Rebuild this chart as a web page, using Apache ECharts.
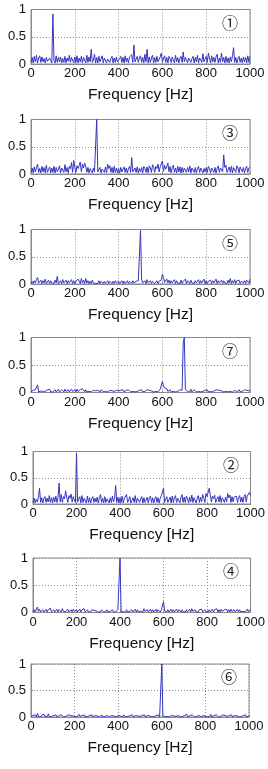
<!DOCTYPE html>
<html><head><meta charset="utf-8">
<script src="https://cdn.jsdelivr.net/npm/echarts@6/dist/echarts.min.js"></script>
<style>html,body{margin:0;padding:0;background:#fff}#c{width:268px;height:769px}</style>
</head><body><div id="c"></div>
<script>
// frequency resolution of the spectra (Hz between samples), 0..1000 Hz
const freqStep = 5;
const xTicks = [0, 200, 400, 600, 800, 1000];
const yTicks = [0, 0.5, 1];
const panelLabels = ['①', '③', '⑤', '⑦', '②', '④', '⑥'];

const spec1 = [
0.03,0.12,0.02,0.14,0.04,0.16,0.02,0.11,0.15,0.03,0.13,0.04,0.10,0.02,0.12,0.05,0.03,0.11,0.14,0.02,
0.92,0.06,0.02,0.15,0.03,0.12,0.04,0.13,0.02,0.10,0.03,0.14,0.02,0.11,0.05,0.16,0.03,0.12,0.10,0.02,
0.13,0.03,0.15,0.02,0.11,0.04,0.14,0.02,0.12,0.10,0.02,0.16,0.03,0.13,0.04,0.27,0.03,0.07,0.18,0.02,
0.12,0.02,0.14,0.04,0.03,0.15,0.02,0.11,0.13,0.02,0.09,0.12,0.03,0.10,0.14,0.02,0.11,0.03,0.13,0.04,
0.02,0.10,0.14,0.03,0.12,0.02,0.15,0.04,0.11,0.02,0.13,0.10,0.17,0.03,0.35,0.04,0.02,0.14,0.03,0.11,
0.15,0.03,0.12,0.02,0.18,0.04,0.27,0.02,0.13,0.03,0.11,0.16,0.02,0.12,0.03,0.14,0.04,0.02,0.13,0.20,
0.04,0.02,0.15,0.03,0.12,0.02,0.14,0.10,0.03,0.13,0.11,0.02,0.16,0.04,0.12,0.02,0.10,0.14,0.03,0.22,
0.04,0.12,0.15,0.02,0.11,0.13,0.03,0.10,0.14,0.02,0.12,0.04,0.16,0.02,0.11,0.13,0.03,0.19,0.04,0.02,
0.14,0.03,0.20,0.11,0.02,0.15,0.04,0.12,0.03,0.13,0.18,0.02,0.11,0.03,0.20,0.04,0.12,0.02,0.14,0.03,
0.11,0.02,0.13,0.04,0.15,0.30,0.03,0.12,0.02,0.10,0.14,0.03,0.11,0.02,0.13,0.04,0.12,0.02,0.15,0.03,
0.14];
const spec3 = [
0.03,0.11,0.02,0.13,0.04,0.12,0.18,0.03,0.10,0.02,0.14,0.04,0.12,0.02,0.16,0.03,0.08,0.13,0.02,0.11,
0.03,0.14,0.02,0.12,0.04,0.08,0.15,0.02,0.11,0.13,0.03,0.17,0.04,0.12,0.02,0.14,0.10,0.21,0.03,0.25,
0.12,0.03,0.15,0.10,0.13,0.22,0.04,0.18,0.11,0.20,0.14,0.03,0.12,0.02,0.10,0.13,0.02,0.11,0.04,0.03,
1.00,0.04,0.02,0.12,0.02,0.09,0.11,0.03,0.13,0.02,0.18,0.10,0.15,0.03,0.12,0.02,0.14,0.03,0.11,0.02,
0.10,0.02,0.12,0.04,0.02,0.13,0.03,0.11,0.02,0.10,0.14,0.03,0.30,0.04,0.02,0.11,0.03,0.13,0.02,0.10,
0.04,0.12,0.02,0.14,0.10,0.03,0.13,0.02,0.15,0.11,0.03,0.17,0.12,0.03,0.14,0.10,0.18,0.04,0.13,0.15,
0.24,0.05,0.16,0.09,0.13,0.20,0.04,0.14,0.02,0.12,0.16,0.03,0.11,0.02,0.14,0.04,0.13,0.02,0.12,0.03,
0.11,0.14,0.03,0.12,0.04,0.15,0.02,0.11,0.13,0.03,0.12,0.02,0.10,0.14,0.03,0.11,0.13,0.02,0.10,0.04,
0.12,0.03,0.14,0.10,0.02,0.11,0.13,0.03,0.12,0.02,0.10,0.15,0.03,0.11,0.13,0.04,0.35,0.12,0.16,0.03,
0.08,0.13,0.03,0.14,0.02,0.12,0.10,0.03,0.15,0.11,0.02,0.13,0.16,0.04,0.12,0.02,0.10,0.14,0.03,0.11,
0.13];
const spec5 = [
0.01,0.05,0.01,0.06,0.02,0.08,0.12,0.02,0.01,0.07,0.01,0.06,0.02,0.09,0.01,0.04,0.07,0.01,0.06,0.02,
0.05,0.01,0.07,0.02,0.14,0.01,0.03,0.06,0.01,0.08,0.02,0.05,0.07,0.01,0.06,0.02,0.05,0.08,0.01,0.06,
0.01,0.05,0.02,0.09,0.06,0.01,0.10,0.02,0.07,0.01,0.10,0.02,0.06,0.01,0.05,0.01,0.07,0.02,0.05,0.01,
0.04,0.01,0.06,0.01,0.05,0.02,0.01,0.05,0.01,0.04,0.06,0.01,0.05,0.02,0.01,0.05,0.01,0.06,0.02,0.01,
0.05,0.01,0.04,0.06,0.01,0.05,0.01,0.04,0.06,0.01,0.05,0.02,0.01,0.06,0.02,0.01,0.05,0.02,0.06,0.07,
0.98,0.09,0.02,0.04,0.06,0.01,0.08,0.02,0.04,0.06,0.01,0.05,0.07,0.01,0.03,0.06,0.01,0.05,0.02,0.07,
0.18,0.12,0.03,0.06,0.09,0.02,0.07,0.01,0.06,0.02,0.05,0.08,0.01,0.06,0.02,0.05,0.01,0.07,0.01,0.05,
0.02,0.09,0.01,0.06,0.05,0.01,0.07,0.02,0.05,0.01,0.06,0.02,0.05,0.08,0.01,0.06,0.02,0.05,0.09,0.01,
0.06,0.01,0.05,0.02,0.07,0.01,0.06,0.02,0.05,0.09,0.01,0.06,0.02,0.05,0.07,0.01,0.06,0.02,0.05,0.01,
0.07,0.02,0.10,0.01,0.06,0.02,0.08,0.01,0.06,0.05,0.07,0.01,0.05,0.08,0.02,0.06,0.01,0.07,0.05,0.02,
0.09];
const spec7 = [
0.01,0.03,0.04,0.01,0.05,0.02,0.14,0.01,0.02,0.03,0.05,0.01,0.04,0.02,0.01,0.05,0.02,0.06,0.01,0.04,
0.01,0.02,0.05,0.01,0.04,0.06,0.01,0.03,0.05,0.02,0.01,0.06,0.02,0.04,0.05,0.01,0.03,0.06,0.02,0.03,
0.05,0.01,0.06,0.02,0.01,0.05,0.02,0.07,0.04,0.01,0.05,0.01,0.04,0.02,0.05,0.01,0.03,0.04,0.01,0.03,
0.01,0.04,0.02,0.01,0.05,0.02,0.01,0.04,0.02,0.05,0.01,0.03,0.04,0.01,0.03,0.05,0.02,0.01,0.04,0.02,
0.03,0.01,0.04,0.02,0.05,0.01,0.03,0.04,0.01,0.05,0.02,0.01,0.04,0.02,0.05,0.01,0.04,0.02,0.01,0.04,
0.02,0.05,0.01,0.04,0.02,0.01,0.05,0.02,0.04,0.01,0.03,0.05,0.01,0.04,0.02,0.05,0.01,0.04,0.06,0.05,
0.20,0.12,0.08,0.05,0.07,0.02,0.03,0.05,0.01,0.04,0.02,0.05,0.01,0.04,0.02,0.01,0.05,0.02,0.04,0.90,
1.00,0.06,0.06,0.02,0.05,0.01,0.06,0.01,0.04,0.05,0.02,0.01,0.04,0.02,0.05,0.01,0.04,0.02,0.01,0.04,
0.02,0.05,0.01,0.04,0.02,0.05,0.01,0.03,0.04,0.01,0.05,0.02,0.04,0.01,0.03,0.05,0.01,0.04,0.02,0.05,
0.01,0.04,0.02,0.05,0.01,0.03,0.04,0.06,0.01,0.03,0.05,0.01,0.04,0.02,0.01,0.05,0.02,0.04,0.01,0.03,
0.05];
const spec2 = [
0.03,0.11,0.02,0.09,0.04,0.13,0.30,0.03,0.12,0.02,0.10,0.14,0.03,0.11,0.04,0.16,0.03,0.12,0.02,0.13,
0.04,0.15,0.03,0.12,0.40,0.04,0.18,0.03,0.14,0.10,0.25,0.13,0.03,0.16,0.11,0.19,0.04,0.14,0.12,0.03,
0.97,0.04,0.03,0.14,0.02,0.16,0.03,0.11,0.13,0.02,0.15,0.03,0.12,0.02,0.10,0.14,0.03,0.11,0.04,0.13,
0.02,0.12,0.18,0.03,0.11,0.02,0.14,0.03,0.10,0.13,0.02,0.12,0.03,0.15,0.04,0.11,0.35,0.03,0.13,0.02,
0.12,0.03,0.15,0.02,0.11,0.13,0.18,0.03,0.08,0.14,0.02,0.07,0.12,0.03,0.16,0.02,0.11,0.13,0.03,0.10,
0.14,0.02,0.12,0.03,0.07,0.13,0.02,0.11,0.15,0.03,0.12,0.02,0.10,0.14,0.03,0.12,0.02,0.11,0.16,0.13,
0.30,0.03,0.09,0.14,0.03,0.08,0.13,0.02,0.15,0.03,0.12,0.16,0.03,0.11,0.14,0.02,0.12,0.18,0.03,0.13,
0.03,0.15,0.11,0.02,0.13,0.04,0.17,0.03,0.12,0.14,0.02,0.11,0.16,0.03,0.13,0.04,0.18,0.12,0.03,0.20,
0.14,0.16,0.30,0.18,0.04,0.15,0.10,0.17,0.03,0.09,0.14,0.04,0.16,0.03,0.12,0.15,0.03,0.13,0.04,0.20,
0.12,0.17,0.03,0.14,0.04,0.13,0.11,0.15,0.03,0.12,0.16,0.04,0.13,0.03,0.14,0.18,0.04,0.15,0.12,0.22,
0.16];
const spec4 = [
0.01,0.05,0.01,0.04,0.10,0.02,0.06,0.01,0.02,0.05,0.01,0.04,0.06,0.01,0.05,0.02,0.08,0.01,0.03,0.05,
0.01,0.02,0.06,0.01,0.05,0.04,0.01,0.07,0.02,0.05,0.01,0.03,0.06,0.01,0.04,0.05,0.01,0.06,0.02,0.03,
0.05,0.01,0.04,0.06,0.01,0.05,0.02,0.07,0.01,0.02,0.05,0.01,0.04,0.01,0.05,0.02,0.04,0.01,0.03,0.05,
0.01,0.04,0.01,0.05,0.02,0.01,0.04,0.01,0.05,0.01,0.04,0.02,0.01,0.05,0.01,0.04,0.01,0.03,0.05,0.02,
1.00,0.02,0.03,0.01,0.04,0.01,0.05,0.01,0.04,0.02,0.01,0.05,0.01,0.04,0.06,0.01,0.05,0.01,0.04,0.02,
0.05,0.01,0.07,0.02,0.01,0.05,0.01,0.04,0.06,0.01,0.05,0.01,0.04,0.06,0.01,0.05,0.02,0.01,0.05,0.04,
0.20,0.03,0.04,0.01,0.05,0.01,0.04,0.06,0.01,0.05,0.01,0.04,0.06,0.01,0.05,0.02,0.01,0.05,0.01,0.04,
0.01,0.05,0.01,0.04,0.06,0.01,0.07,0.02,0.01,0.05,0.01,0.04,0.01,0.05,0.02,0.06,0.01,0.03,0.05,0.01,
0.04,0.01,0.05,0.01,0.04,0.06,0.01,0.05,0.02,0.07,0.01,0.05,0.01,0.06,0.02,0.01,0.05,0.02,0.06,0.01,
0.05,0.01,0.06,0.02,0.01,0.05,0.01,0.04,0.06,0.01,0.05,0.01,0.04,0.02,0.05,0.01,0.04,0.06,0.01,0.05,
0.04];
const spec6 = [
0.01,0.00,0.03,0.01,0.04,0.00,0.07,0.01,0.03,0.00,0.04,0.01,0.05,0.00,0.03,0.01,0.06,0.00,0.03,0.01,
0.00,0.03,0.01,0.04,0.00,0.02,0.03,0.00,0.04,0.01,0.00,0.03,0.01,0.00,0.04,0.01,0.03,0.00,0.02,0.03,
0.01,0.04,0.00,0.03,0.05,0.01,0.00,0.03,0.01,0.04,0.00,0.03,0.01,0.00,0.03,0.01,0.04,0.00,0.02,0.03,
0.00,0.02,0.03,0.00,0.02,0.04,0.00,0.03,0.01,0.00,0.03,0.01,0.00,0.02,0.03,0.00,0.02,0.04,0.00,0.02,
0.03,0.00,0.02,0.03,0.00,0.04,0.01,0.00,0.03,0.01,0.00,0.03,0.01,0.04,0.00,0.02,0.03,0.00,0.02,0.03,
0.01,0.00,0.03,0.01,0.04,0.00,0.02,0.03,0.00,0.02,0.04,0.00,0.03,0.01,0.00,0.03,0.01,0.04,0.00,0.02,
1.00,0.03,0.01,0.00,0.03,0.01,0.04,0.00,0.02,0.03,0.00,0.02,0.04,0.01,0.00,0.03,0.01,0.00,0.03,0.01,
0.00,0.03,0.01,0.05,0.00,0.02,0.03,0.00,0.04,0.01,0.00,0.03,0.01,0.00,0.03,0.04,0.00,0.02,0.03,0.00,
0.01,0.04,0.00,0.03,0.01,0.05,0.00,0.02,0.03,0.00,0.04,0.01,0.00,0.03,0.01,0.00,0.04,0.01,0.03,0.00,
0.01,0.00,0.03,0.01,0.04,0.00,0.02,0.03,0.00,0.02,0.04,0.00,0.03,0.01,0.00,0.03,0.01,0.04,0.00,0.03,
0.02];

const panelSeries = [spec1, spec3, spec5, spec7, spec2, spec4, spec6];

// layout (pixels)
const boxes = [
  {l:31, t:9.5, w:219, h:54.5},
  {l:31, t:119.5, w:219, h:54.5},
  {l:31, t:229.5, w:219, h:54.5},
  {l:31, t:337.5, w:219, h:55},
  {l:33, t:451.5, w:218, h:52.5},
  {l:33, t:558, w:218, h:54.5},
  {l:31, t:664, w:218, h:53}
];

const chart = echarts.init(document.getElementById('c'), null, {renderer:'canvas'});
const grids = [], xAxes = [], yAxes = [], series = [], graphics = [];
const fontFam = '"Liberation Sans", Arial, sans-serif';
boxes.forEach((b, i) => {
  grids.push({left:b.l, top:b.t, width:b.w, height:b.h, show:true, borderColor:'#8a8a8a', borderWidth:1, backgroundColor:'#fff'});
  xAxes.push({
    gridIndex:i, type:'value', min:xTicks[0], max:xTicks[xTicks.length-1], interval:xTicks[1]-xTicks[0],
    name:'Frequency [Hz]', nameLocation:'middle', nameGap:23,
    nameTextStyle:{fontSize:15.5, color:'#111', fontFamily:fontFam},
    axisLine:{show:true, lineStyle:{color:'#8a8a8a', width:1}},
    axisTick:{show:true, inside:true, length:2, lineStyle:{color:'#8a8a8a'}},
    axisLabel:{fontSize:13, color:'#111', margin:3, fontFamily:fontFam, formatter:v => String(v)},
    splitLine:{show:true, lineStyle:{color:'#8c8c8c', type:[1,2], width:1}}
  });
  yAxes.push({
    gridIndex:i, type:'value', min:yTicks[0], max:yTicks[yTicks.length-1], interval:yTicks[1]-yTicks[0],
    axisLine:{show:true, lineStyle:{color:'#8a8a8a', width:1}},
    axisTick:{show:true, inside:true, length:2, lineStyle:{color:'#8a8a8a'}},
    axisLabel:{fontSize:13, color:'#111', margin:5, fontFamily:fontFam, formatter:v => String(v)},
    splitLine:{show:true, lineStyle:{color:'#8c8c8c', type:[1,2], width:1}}
  });
  const arr = panelSeries[i];
  series.push({
    type:'line', xAxisIndex:i, yAxisIndex:i, showSymbol:false, symbol:'none',
    data: arr.map((v, k) => [k*freqStep, v]),
    lineStyle:{color:'#3434c2', width:1}, animation:false, silent:true
  });
  graphics.push({
    type:'text', left:b.l + b.w - 28, top:b.t + 5,
    style:{text:panelLabels[i], font:'16px "Noto Sans CJK SC", "DejaVu Sans", sans-serif', fill:'#222'}
  });
});

chart.setOption({
  animation:false,
  backgroundColor:'#fff',
  grid:grids, xAxis:xAxes, yAxis:yAxes, series:series, graphic:graphics
});
</script>
</body></html>
